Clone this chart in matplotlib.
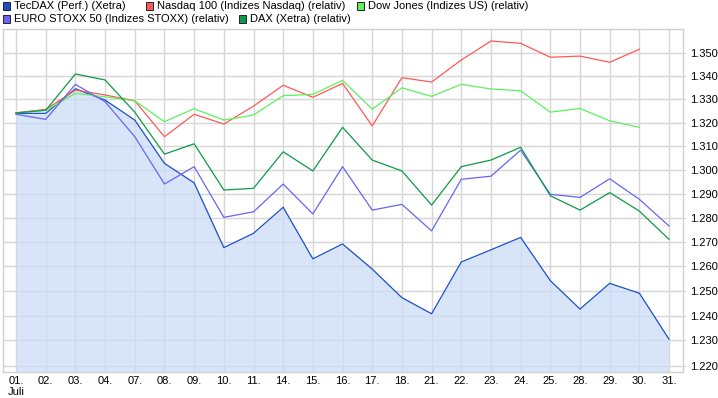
import numpy as np
import matplotlib
matplotlib.use("Agg")
import matplotlib.pyplot as plt
from matplotlib.patches import Rectangle
from matplotlib.ticker import FixedLocator, FormatStrFormatter, NullLocator

# ---- Data (July) ----
dates = ["01.", "02.", "03.", "04.", "07.", "08.", "09.", "10.", "11.", "14.", "15.",
         "16.", "17.", "18.", "21.", "22.", "23.", "24.", "25.", "28.", "29.", "30.", "31."]
month_label = "Juli"

tecdax = [1.3240, 1.3240, 1.3346, 1.3297, 1.3211, 1.3027, 1.2945, 1.2676, 1.2735, 1.2843,
          1.2630, 1.2691, 1.2588, 1.2472, 1.2407, 1.2617, 1.2667, 1.2718, 1.2541, 1.2426,
          1.2530, 1.2490, 1.2305]
nasdaq = [1.3242, 1.3257, 1.3340, 1.3319, 1.3294, 1.3140, 1.3236, 1.3194, 1.3271, 1.3361,
          1.3309, 1.3369, 1.3186, 1.3394, 1.3375, 1.3471, 1.3554, 1.3544, 1.3483, 1.3488,
          1.3461, 1.3518]
dow = [1.3242, 1.3253, 1.3326, 1.3311, 1.3294, 1.3204, 1.3260, 1.3211, 1.3233, 1.3316,
       1.3322, 1.3382, 1.3258, 1.3350, 1.3313, 1.3365, 1.3345, 1.3337, 1.3245, 1.3261,
       1.3208, 1.3180]
stoxx = [1.3236, 1.3214, 1.3365, 1.3290, 1.3140, 1.2940, 1.3013, 1.2801, 1.2824, 1.2940,
         1.2815, 1.3013, 1.2831, 1.2855, 1.2745, 1.2960, 1.2973, 1.3083, 1.2897, 1.2884,
         1.2962, 1.2876, 1.2765]
dax = [1.3242, 1.3253, 1.3410, 1.3384, 1.3245, 1.3066, 1.3110, 1.2915, 1.2922, 1.3076,
       1.2995, 1.3180, 1.3041, 1.2995, 1.2852, 1.3013, 1.3041, 1.3095, 1.2891, 1.2831,
       1.2904, 1.2827, 1.2710]

y_ticks = [1.22, 1.23, 1.24, 1.25, 1.26, 1.27, 1.28, 1.29, 1.30, 1.31, 1.32, 1.33, 1.34, 1.35]

series = [
    ("TecDAX (Perf.) (Xetra)", tecdax, "#1a50c8"),
    ("Nasdaq 100 (Indizes Nasdaq) (relativ)", nasdaq, "#ff5858"),
    ("Dow Jones (Indizes US) (relativ)", dow, "#5cf25c"),
    ("EURO STOXX 50 (Indizes STOXX) (relativ)", stoxx, "#6666f2"),
    ("DAX (Xetra) (relativ)", dax, "#0e9a48"),
]

plt.rcParams["font.family"] = ["Liberation Sans", "DejaVu Sans"]
plt.rcParams["font.size"] = 8

W, H = 718, 398
fig = plt.figure(figsize=(W / 100, H / 100), dpi=100, facecolor="white")
# plot area in pixels: x 3..683, y 29..372
ax = fig.add_axes([3 / W, (H - 372) / H, 680 / W, 343 / H])
ax.set_yscale("log")
ax.set_xlim(-0.44, 22.47)
ax.set_ylim(1.2175, 1.3607)

grid_c = "#d6d6d6"
ax.yaxis.set_major_locator(FixedLocator(y_ticks))
ax.yaxis.set_minor_locator(NullLocator())
ax.yaxis.set_major_formatter(FormatStrFormatter("%.3f"))
ax.yaxis.tick_right()
ax.tick_params(axis="y", length=2, color=grid_c, pad=3, labelsize=8)
x = np.arange(len(dates))
ax.set_xticks(x)
labels = list(dates)
labels[0] = labels[0] + "\n" + month_label
ax.set_xticklabels(labels, linespacing=1.1)
ax.tick_params(axis="x", length=0, pad=3, labelsize=8)
ax.grid(True, color=grid_c, linewidth=1.0, zorder=0)
ax.set_axisbelow(True)
for sp in ax.spines.values():
    sp.set_color("#cfcfcf")
    sp.set_linewidth(1.0)

# TecDAX area fill
ax.fill_between(x[:len(tecdax)], tecdax, 1.2175, color="#cadcf6", alpha=0.72,
                linewidth=0, zorder=1)

for name, vals, col in series:
    ax.plot(np.arange(len(vals)), vals, color=col, linewidth=0.9, zorder=3)

# ---- Legend (manual, two rows at the top) ----
legend_pos = [(3, 6), (146, 6), (357, 6), (3, 19), (239, 19)]
for (name, vals, col), (px, py) in zip(series, legend_pos):
    fig.patches.append(Rectangle(((px) / W, (H - py - 3.5) / H), 7 / W, 7 / H,
                                 transform=fig.transFigure, facecolor=col,
                                 edgecolor="#222222", linewidth=0.7))
    fig.text((px + 11) / W, (H - py) / H, name, fontsize=8, va="center", ha="left")

fig.savefig("out.png", dpi=100, facecolor="white")
